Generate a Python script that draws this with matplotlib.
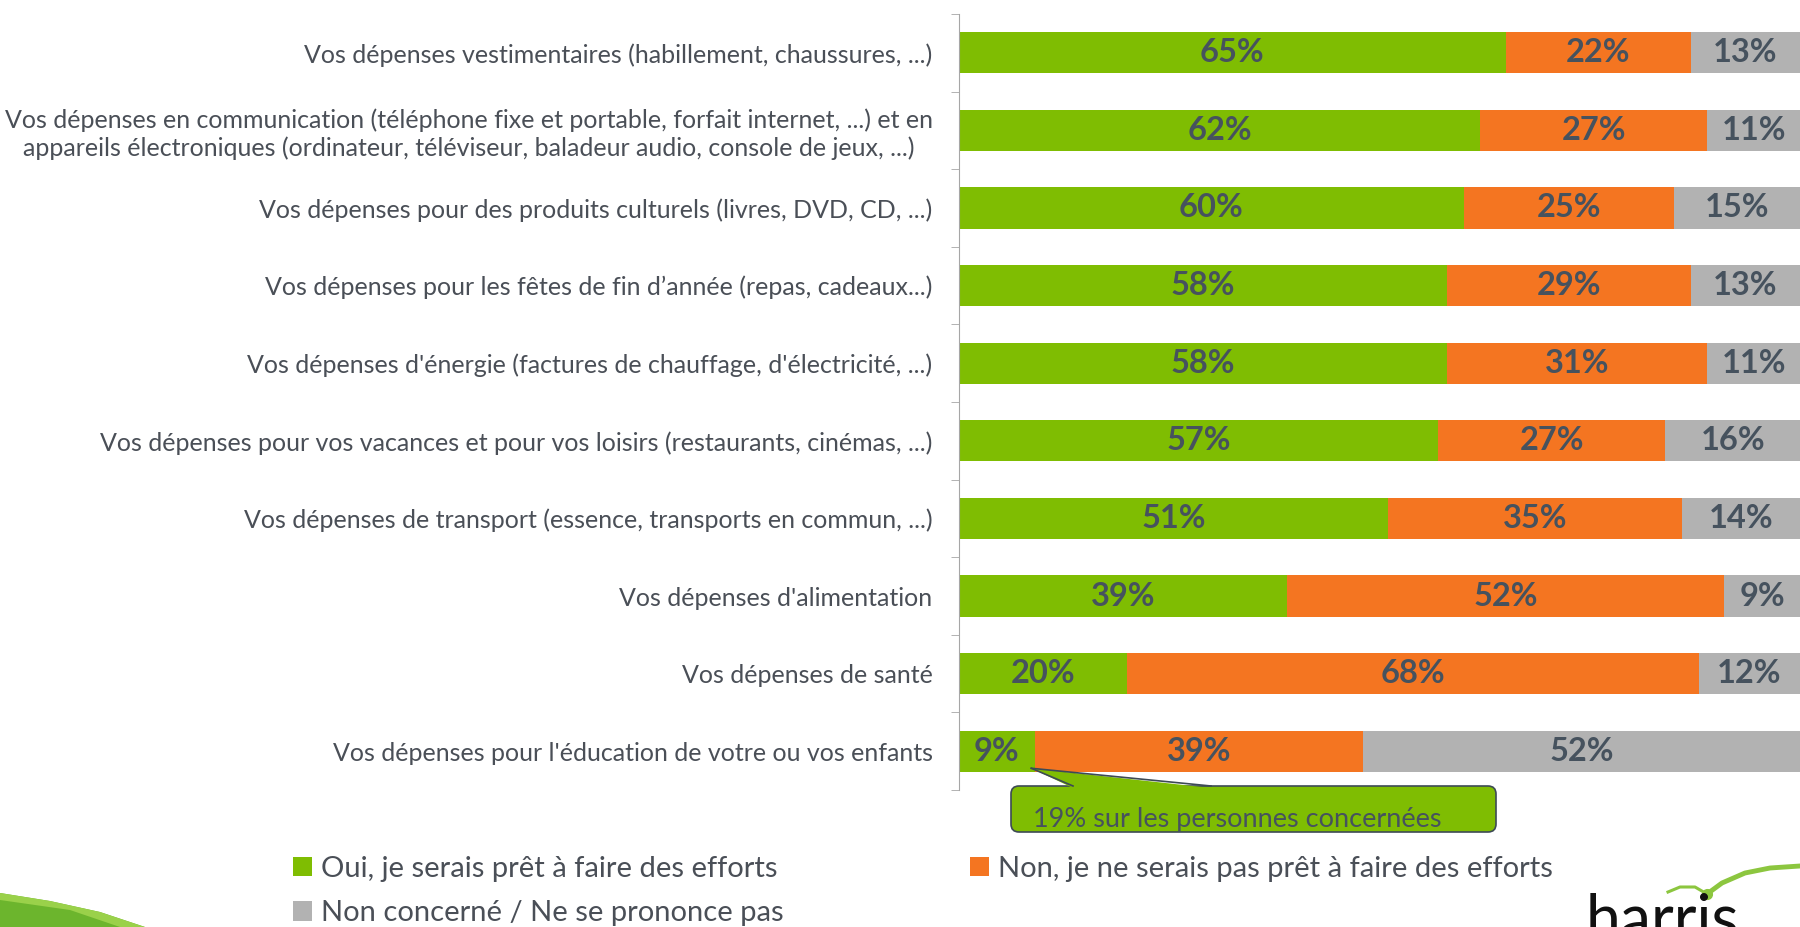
import matplotlib
import numpy as np

matplotlib.use("Agg")
import matplotlib.pyplot as plt
from matplotlib.patches import FancyBboxPatch, Polygon
from matplotlib.transforms import IdentityTransform

categories = [
    "Vos dépenses vestimentaires (habillement, chaussures, ...)",
    "Vos dépenses en communication (téléphone fixe et portable, forfait internet, ...) et en\n"
    "appareils électroniques (ordinateur, téléviseur, baladeur audio, console de jeux, ...)",
    "Vos dépenses pour des produits culturels (livres, DVD, CD, ...)",
    "Vos dépenses pour les fêtes de fin d’année (repas, cadeaux...)",
    "Vos dépenses d'énergie (factures de chauffage, d'électricité, ...)",
    "Vos dépenses pour vos vacances et pour vos loisirs (restaurants, cinémas, ...)",
    "Vos dépenses de transport (essence, transports en commun, ...)",
    "Vos dépenses d'alimentation",
    "Vos dépenses de santé",
    "Vos dépenses pour l'éducation de votre ou vos enfants",
]
oui = [65, 62, 60, 58, 58, 57, 51, 39, 20, 9]
non = [22, 27, 25, 29, 31, 27, 35, 52, 68, 39]
nsp = [13, 11, 15, 13, 11, 16, 14, 9, 12, 52]
series_names = [
    "Oui, je serais prêt à faire des efforts",
    "Non, je ne serais pas prêt à faire des efforts",
    "Non concerné / Ne se prononce pas",
]
colors = ["#7fbd02", "#f47521", "#b2b2b2"]
callout_text = "19% sur les personnes concernées"

plt.rcParams["font.family"] = ["Lato", "DejaVu Sans"]
txt_dark = "#46525e"
txt_grey = "#4a4f57"
axis_grey = "#a6a6a6"
px = IdentityTransform()

W, H = 1800, 927
fig = plt.figure(figsize=(18, 9.27), dpi=100)
ax = fig.add_axes([959 / W, 1 - 790 / H, (W - 959) / W, (790 - 14) / H])

y = np.arange(len(categories))
left = np.zeros(len(categories))
containers = []
for vals, name, c in zip([oui, non, nsp], series_names, colors):
    bars = ax.barh(y, vals, left=left, height=0.53, color=c, label=name)
    ax.bar_label(bars, labels=[f"{v}%" for v in vals], label_type="center",
                 fontsize=23.5, fontweight="bold", color=txt_dark)
    containers.append(bars)
    left += np.array(vals)

ax.set_xlim(0, 100)
ax.set_ylim(len(categories) - 0.5, -0.5)
ax.set_yticks(y)
ax.set_yticklabels(categories, fontsize=18, color=txt_grey, multialignment="center")
ax.set_yticks(np.arange(-0.5, len(categories), 1), minor=True)
ax.tick_params(axis="y", which="major", length=0, pad=19)
ax.tick_params(axis="y", which="minor", length=6, color=axis_grey, direction="out")
ax.set_xticks([])
for s in ["top", "right", "bottom"]:
    ax.spines[s].set_visible(False)
ax.spines["left"].set_color(axis_grey)

# legend: column-wise fill gives Oui / Non concerné in col 1, Non in col 2
handles = [containers[0], containers[2], containers[1]]
labels = [series_names[0], series_names[2], series_names[1]]
fig.legend(handles, labels, ncol=2, loc="upper left", bbox_to_anchor=(293 / W, 1 - 856 / H),
           frameon=False, fontsize=21, labelcolor=txt_grey, handlelength=0.65,
           handleheight=0.65, handletextpad=0.3, columnspacing=6.4, labelspacing=0.62,
           borderpad=0, borderaxespad=0)

# callout on the 9% bar
fig.canvas.draw()
tip = ax.transData.transform((8.6, 9.22))
bx0, bx1, by0, by1 = 1011, 1496, H - 832, H - 786
edge = "#3d4a55"
box = FancyBboxPatch((bx0, by0), bx1 - bx0, by1 - by0, boxstyle="round,pad=0,rounding_size=8",
                     facecolor=colors[0], edgecolor=edge, linewidth=1.2, transform=px, zorder=5)
wedge = Polygon([tip, (1073, by1 - 2), (1211, by1 - 2)], closed=True,
                facecolor=colors[0], edgecolor="none", transform=px, zorder=6)
fig.patches.extend([box, wedge])
for bx in (1073, 1211):
    fig.lines.append(plt.Line2D([tip[0], bx], [tip[1], by1], color=edge, lw=1.2,
                                transform=px, zorder=7))
fig.text(1033 / W, 1 - 820 / H, callout_text, fontsize=19.5, color=txt_dark,
         va="center", ha="left", zorder=10)

# decorations: swoosh bottom-left, logo bottom-right
swoosh = Polygon([(0, H - 893), (50, H - 901), (100, H - 912), (145, H - 927), (0, H - 927)],
                 closed=True, facecolor="#6cb52d", edgecolor="none", transform=px)
stripe = Polygon([(0, H - 893), (50, H - 901), (100, H - 912), (145, H - 927), (120, H - 927),
                  (70, H - 910), (0, H - 900)],
                 closed=True, facecolor="#9ad14a", edgecolor="none", transform=px)
fig.patches.extend([swoosh, stripe])
fig.text(1586 / W, 1 - 893 / H, "harris", fontsize=45, color="#111111", va="top", ha="left")
fig.lines.append(plt.Line2D([1668, 1680, 1695, 1707], [H - 892, H - 887, H - 887, H - 894],
                            color="#8cc63f", lw=2.2, transform=px))
fig.lines.append(plt.Line2D([1707, 1722, 1745, 1770, 1800], [H - 894, H - 883, H - 873, H - 868, H - 866],
                            color="#8cc63f", lw=3.5, transform=px))
fig.lines.append(plt.Line2D([1707], [H - 894], marker="o", ms=7, color="#8cc63f", transform=px))

fig.savefig("out.png", dpi=100)
